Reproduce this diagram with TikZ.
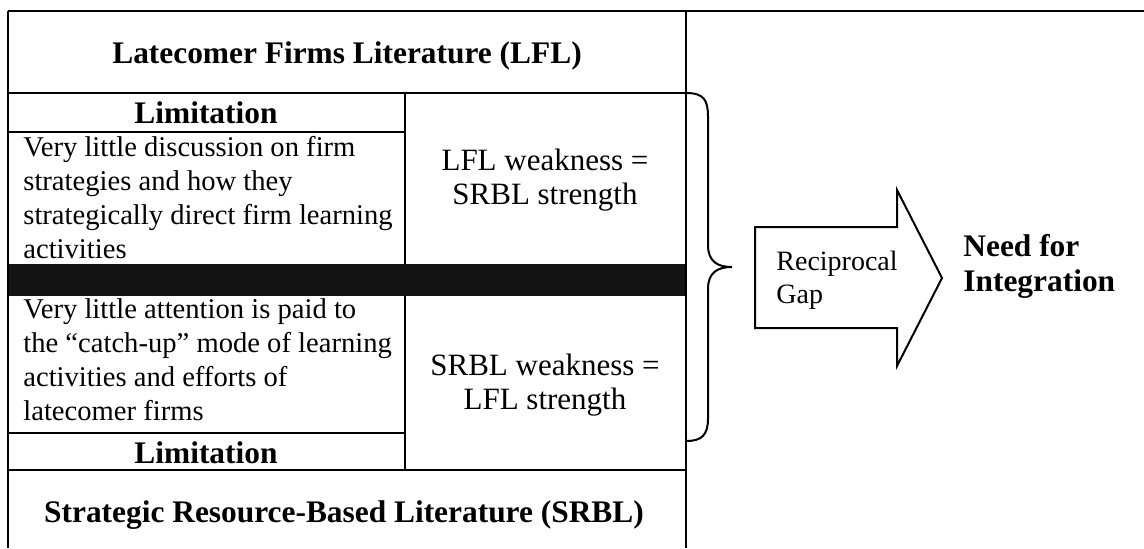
\documentclass[tikz,border=0pt]{standalone}
\usepackage{fontspec}
\setmainfont{Liberation Serif}
\usetikzlibrary{arrows,shapes}
\tikzstyle{rule}=[draw,line width=1pt]
\tikzstyle{head}=[font=\fontsize{15.7}{17.5}\selectfont\bfseries,inner sep=0pt]
\tikzstyle{body}=[font=\fontsize{14.3}{17}\selectfont,inner sep=0pt,align=left]
\tikzstyle{equal}=[font=\fontsize{15.5}{17}\selectfont,inner sep=0pt,align=center]
\tikzstyle{gaptext}=[font=\fontsize{14}{16.5}\selectfont,inner sep=0pt,align=left]

\begin{document}
\begin{tikzpicture}[x=0.5pt,y=-0.5pt]
    \useasboundingbox (0,0) rectangle (1144,548);
    % table
    \fill[black!92] (8,264) rectangle (686,296);
    \foreach \ya/\xb in {11/1144, 93/686, 132/405, 433/405, 470/686}
        \path[rule] (8,\ya) -- (\xb,\ya);
    \foreach \xa in {8,686}
        \path[rule] (\xa,11) -- (\xa,548);
    \path[rule] (405,93) -- (405,264) (405,296) -- (405,470);
    \node[head,anchor=base] (lfl) at (347,63) {Latecomer Firms Literature (LFL)};
    \node[head,anchor=base] (limtop) at (206,123) {Limitation};
    \node[body,anchor=north west] (lfllim) at (23,135.5) {Very little discussion on firm\\strategies and how they\\strategically direct firm learning\\activities};
    \node[equal] (lflweak) at (545,180) {LFL weakness =\\SRBL strength};
    \node[body,anchor=north west] (srbllim) at (23,298.5) {Very little attention is paid to\\the “catch-up” mode of learning\\activities and efforts of\\latecomer firms};
    \node[equal] (srblweak) at (545,385) {SRBL weakness =\\LFL strength};
    \node[head,anchor=base] (limbot) at (206,463) {Limitation};
    \node[head,anchor=base] (srbl) at (344,522) {Strategic Resource-Based Literature (SRBL)};
    % brace and arrow
    \draw[line width=1pt] (686,93) .. controls (704,93) and (708,100) .. (708,117)
        -- (708,245) .. controls (708,262) and (718,267) .. (732,267)
        .. controls (718,267) and (708,272) .. (708,289)
        -- (708,418) .. controls (708,435) and (702,441) .. (686,441);
    \draw[line width=1pt] (755,227) -- (897,227) -- (897,190) -- (942,278)
        -- (897,366) -- (897,328) -- (755,328) -- cycle;
    \node[gaptext,anchor=north west] (recip) at (776,251) {Reciprocal\\Gap};
    \node[head,align=left,anchor=north west] (need) at (963,234) {Need for\\Integration};
\end{tikzpicture}
\end{document}
